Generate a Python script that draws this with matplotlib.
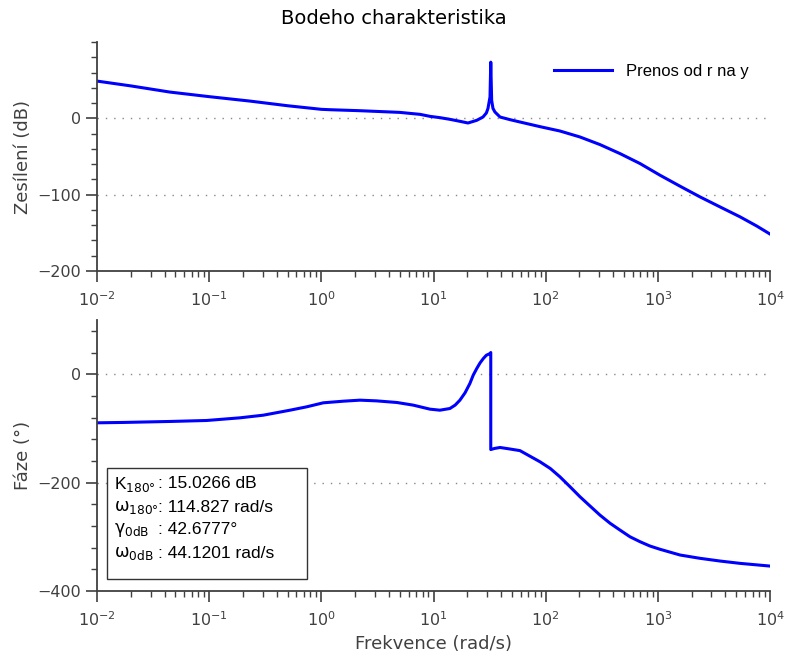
import matplotlib
matplotlib.use("Agg")
import matplotlib.pyplot as plt
from matplotlib.ticker import LogLocator, MultipleLocator, NullFormatter, FixedLocator
from matplotlib.patches import Rectangle

# ---- data ----
mag_freq = [0.01, 0.02, 0.0447, 0.1, 0.231, 0.5, 1.0, 1.19, 2.2, 5.0, 7.6, 9.3, 11.4, 14.0,
            17.2, 20.3, 24.3, 27.6, 29.6, 30.6, 31.9, 32.4, 33.0, 33.9, 35.3, 39.2, 48.0, 59.0,
            89.0, 134.0, 202.0, 305.0, 460.0, 693.0, 1045.0, 1577.0, 2376.0, 3580.0, 5400.0,
            7600.0, 10000.0]
mag_db = [48.8, 42.5, 34.4, 28.4, 22.6, 16.5, 11.8, 11.3, 10.0, 7.8, 5.2, 2.6, 0.9, -1.3,
          -3.9, -6.1, -2.6, 1.7, 7.0, 13.0, 28.0, 73.6, 23.5, 13.0, 8.3, 1.7, -1.7, -4.8,
          -10.9, -16.6, -24.4, -34.4, -46.2, -59.2, -74.5, -88.9, -102.9, -116.0, -129.0,
          -141.0, -151.6]

ph_freq = [0.01, 0.0172, 0.0447, 0.095, 0.188, 0.304, 0.526, 0.74, 1.04, 1.57, 2.21, 3.1,
           4.72, 6.6, 9.3, 11.4, 14.0, 15.6, 17.2, 19.1, 21.1, 22.6, 24.3, 26.0, 27.8, 29.6,
           31.9, 32.4, 32.4, 35.0, 39.2, 48.0, 59.0, 72.0, 89.0, 110.0, 134.0, 165.0, 202.0,
           248.0, 305.0, 375.0, 460.0, 565.0, 693.0, 850.0, 1045.0, 1577.0, 2376.0, 3580.0,
           5400.0, 10000.0]
ph_deg = [-89.7, -89.0, -87.2, -85.4, -80.5, -75.6, -66.4, -60.2, -52.8, -49.8, -47.9, -49.2,
          -52.2, -57.1, -64.5, -66.4, -63.3, -57.0, -47.9, -34.4, -17.2, -1.8, 10.5, 20.8, 28.9,
          35.0, 38.1, 40.0, -139.0, -137.0, -135.2, -138.0, -141.0, -151.0, -161.6, -174.0,
          -189.3, -207.7, -226.0, -243.0, -260.0, -275.0, -287.6, -300.0, -309.0, -317.0,
          -323.0, -333.6, -339.7, -344.7, -349.0, -354.0]

x_ticks = [1e-2, 1e-1, 1e0, 1e1, 1e2, 1e3, 1e4]
mag_yticks = [-200, -100, 0]
ph_yticks = [-400, -200, 0]

title = "Bodeho charakteristika"
legend_label = "Prenos od r na y"
mag_ylabel = "Zesílení (dB)"
ph_ylabel = "Fáze (°)"
xlabel = "Frekvence (rad/s)"
margin_labels = [r"K$_{\mathrm{180°}}$", r"$\mathrm{ω}_{\mathrm{180°}}$",
                 r"$\mathrm{γ}_{\mathrm{0dB}}$", r"$\mathrm{ω}_{\mathrm{0dB}}$"]
margin_values = [": 15.0266 dB", ": 114.827 rad/s", ": 42.6777°", ": 44.1201 rad/s"]

plt.rcParams['font.family'] = ['DejaVu Sans']
plt.rcParams['mathtext.fontset'] = 'dejavusans'

fig = plt.figure(figsize=(7.87, 6.6), dpi=100)
W, H = 787, 660
ax1 = fig.add_axes([97 / W, 1 - 271 / H, 673 / W, 229 / H])
ax2 = fig.add_axes([97 / W, 1 - 591 / H, 673 / W, 271 / H])

minor_x = [m * 10.0 ** e for e in range(-2, 4) for m in range(2, 10)]

gray = '#404040'
for ax in (ax1, ax2):
    ax.set_xscale('log')
    ax.set_xlim(1e-2, 1e4)
    for s in ('top', 'right'):
        ax.spines[s].set_visible(False)
    for s in ('left', 'bottom'):
        ax.spines[s].set_color(gray)
        ax.spines[s].set_linewidth(1.3)
    ax.set_xticks(x_ticks)
    ax.xaxis.set_minor_locator(FixedLocator(minor_x))
    ax.xaxis.set_minor_formatter(NullFormatter())
    ax.tick_params(which='major', direction='out', length=8, width=1.2, color=gray,
                   labelcolor=gray, labelsize=11.5)
    ax.tick_params(which='minor', direction='out', length=4.5, width=1.0, color=gray)
    ax.tick_params(axis='x', which='both', pad=6)

ax1.plot(mag_freq, mag_db, color='#0000ff', lw=2.2, label=legend_label)
ax1.set_ylim(-200, 100)
ax1.set_yticks(mag_yticks)
ax1.yaxis.set_minor_locator(MultipleLocator(20))
for yv in (-100, 0):
    ax1.axhline(yv, color='#888888', lw=1.0, ls=(0, (1, 5)), zorder=0)
ax1.set_ylabel(mag_ylabel, color=gray, fontsize=13)
ax1.legend(loc='upper right', frameon=False, handlelength=3.5,
           bbox_to_anchor=(0.99, 0.97), prop={'family': 'Liberation Sans', 'size': 12})

ax2.plot(ph_freq, ph_deg, color='#0000ff', lw=2.2)
ax2.set_ylim(-400, 100)
ax2.set_yticks(ph_yticks)
ax2.yaxis.set_minor_locator(MultipleLocator(40))
for yv in (-200, 0):
    ax2.axhline(yv, color='#888888', lw=1.0, ls=(0, (1, 5)), zorder=0)
ax2.set_ylabel(ph_ylabel, color=gray, fontsize=13)
ax2.set_xlabel(xlabel, color=gray, fontsize=13)

fig.text(0.5, 1 - 18 / H, title, ha='center', va='center', fontsize=14, color='black')

# margins box (axes-pixel placement)
def ax_frac(px, py):
    return ((px - 97) / 673, (591 - py) / 271)

x0, y0 = ax_frac(107, 579)
x1, y1 = ax_frac(307, 468)
ax2.add_patch(Rectangle((x0, y0), x1 - x0, y1 - y0, transform=ax2.transAxes,
                        facecolor='white', edgecolor='#333333', lw=1.0, zorder=5))
row_y = [484, 507, 530, 553]
for lab, val, py in zip(margin_labels, margin_values, row_y):
    lx, ly = ax_frac(114, py)
    vx, _ = ax_frac(158, py)
    ax2.text(lx, ly, lab, transform=ax2.transAxes, fontsize=12.5, va='center', ha='left',
             family='Liberation Sans', zorder=6)
    ax2.text(vx, ly, val, transform=ax2.transAxes, fontsize=12.5, va='center', ha='left',
             family='Liberation Sans', zorder=6)

fig.savefig('out.png', dpi=100)
